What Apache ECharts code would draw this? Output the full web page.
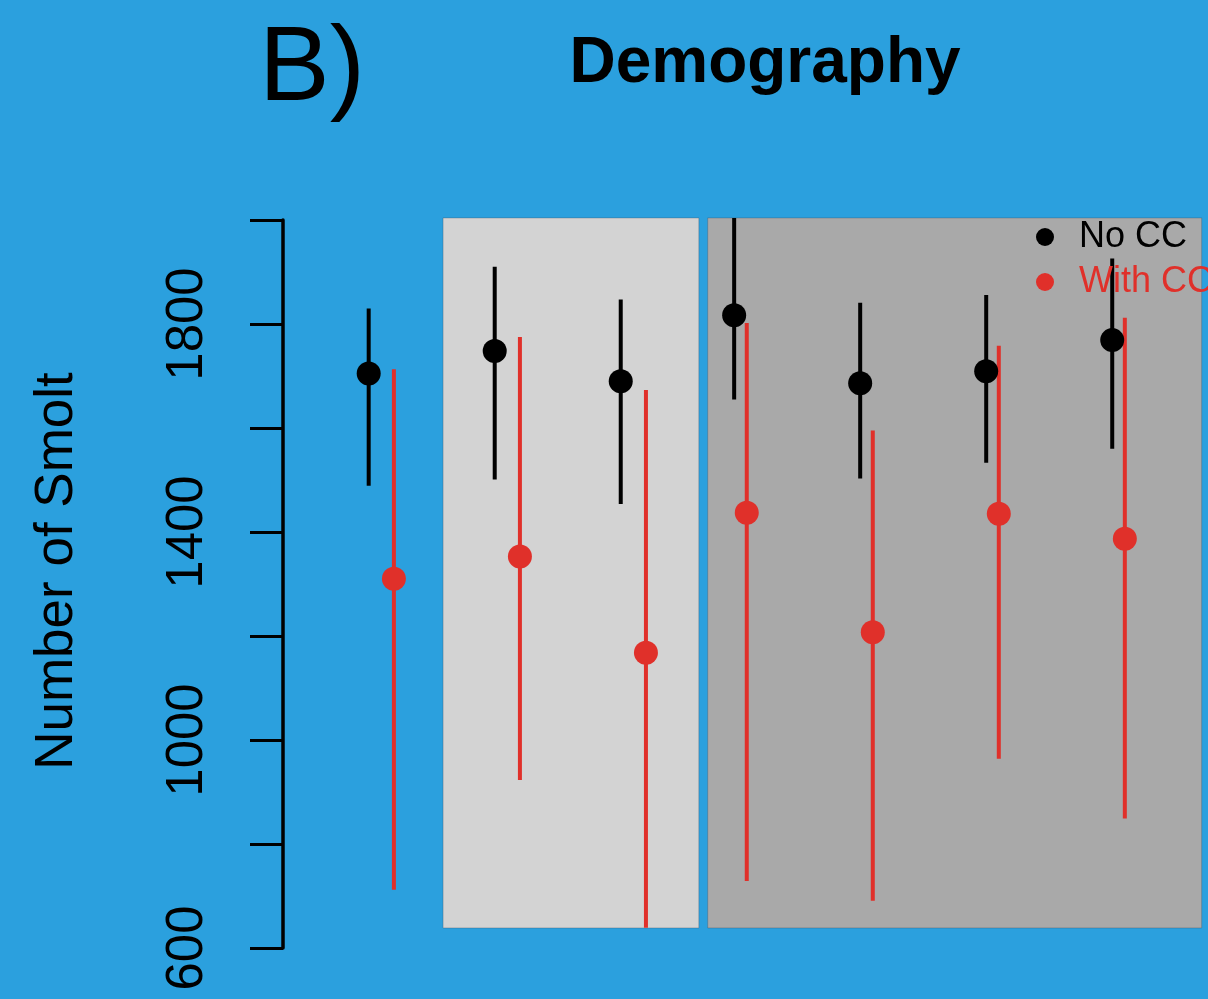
<!DOCTYPE html>
<html>
<head>
<meta charset="utf-8">
<script src="https://cdn.jsdelivr.net/npm/echarts@6/dist/echarts.min.js"></script>
<style>
html,body{margin:0;padding:0;background:#2ba0de;}
#chart{width:1208px;height:999px;}
</style>
</head>
<body>
<div id="chart"></div>
<script>
// ---- data ----
const seriesNames = ['No CC', 'With CC'];
const noCCx = [1, 2, 3, 3.9, 4.9, 5.9, 6.9];
const noCCmean = [1705, 1748, 1690, 1817, 1686, 1709, 1769];
const noCClow = [1489, 1501, 1454, 1655, 1503, 1533, 1560];
const noCChigh = [1830, 1910, 1847, 2004, 1841, 1856, 1926];
const withCCx = [1.2, 2.2, 3.2, 4, 5, 6, 7];
const withCCmean = [1310, 1353, 1168, 1437, 1207, 1435, 1387];
const withCClow = [712, 923, 639, 729, 691, 964, 849];
const withCChigh = [1713, 1775, 1673, 1802, 1595, 1758, 1812];
const tickLabels = [600, 1000, 1400, 1800];
const panelX0 = [1.59, 3.69];
const panelX1 = [3.62, 7.61];
const panelY0 = [638.5, 638.5];
const panelY1 = [2004, 2004];
const panelColors = ['#d3d3d3', '#a9a9a9'];

const BLACK = '#000000';
const RED = '#e0302a';

function barData(xs, lo, hi) {
  return xs.map((x, i) => [x, lo[i], hi[i]]);
}
function pointData(xs, ys) {
  return xs.map((x, i) => [x, ys[i]]);
}
function errRender(color) {
  return function (params, api) {
    const p1 = api.coord([api.value(0), api.value(1)]);
    const p2 = api.coord([api.value(0), api.value(2)]);
    return {
      type: 'line',
      shape: { x1: p1[0], y1: p1[1], x2: p2[0], y2: p2[1] },
      style: { stroke: color, lineWidth: 4 }
    };
  };
}

const chart = echarts.init(document.getElementById('chart'), null, { renderer: 'canvas' });
chart.setOption({
  backgroundColor: '#2ba0de',
  animation: false,
  title: [
    {
      text: 'B)',
      left: 254, top: 13,
      textStyle: { fontFamily: 'Liberation Sans', fontSize: 106, fontWeight: 'normal', color: '#000' }
    },
    {
      text: 'Demography',
      left: 760, top: 27, textAlign: 'center',
      textStyle: { fontFamily: 'Liberation Sans', fontSize: 64, fontWeight: 'bold', color: '#000' }
    }
  ],
  legend: {
    orient: 'vertical',
    left: 1036, top: 219,
    padding: 0,
    itemGap: 9,
    itemWidth: 18, itemHeight: 18,
    icon: 'circle',
    selectedMode: false,
    textStyle: { fontFamily: 'Liberation Sans', fontSize: 36, padding: [0, 0, 0, 20] },
    data: [
      { name: seriesNames[0], textStyle: { color: BLACK } },
      { name: seriesNames[1], textStyle: { color: RED } }
    ]
  },
  grid: { left: 283, right: 0, top: 220, bottom: 51, containLabel: false },
  xAxis: {
    type: 'value', min: 0.32, max: 7.66, show: false
  },
  yAxis: {
    type: 'value', min: 600, max: 2000, interval: 200,
    name: 'Number of Smolt',
    nameLocation: 'middle',
    nameGap: 199,
    nameTextStyle: { fontFamily: 'Liberation Sans', fontSize: 53, color: '#000', padding: [0, 0, 0, 26] },
    axisLine: { show: true, lineStyle: { color: '#000', width: 3.5 } },
    axisTick: { show: true, length: 33, lineStyle: { color: '#000', width: 3 } },
    axisLabel: {
      rotate: 90, margin: 70,
      fontFamily: 'Liberation Sans', fontSize: 51, color: '#000',
      formatter: v => tickLabels.includes(v) ? String(v) : ''
    },
    splitLine: { show: false }
  },
  series: [
    {
      type: 'custom', name: 'panels', silent: true, z: 0,
      data: panelX0.map((x, i) => [x, panelX1[i], panelY0[i], panelY1[i], i]),
      renderItem: function (params, api) {
        const a = api.coord([api.value(0), api.value(3)]);
        const b = api.coord([api.value(1), api.value(2)]);
        return {
          type: 'rect',
          shape: { x: a[0], y: a[1], width: b[0] - a[0], height: b[1] - a[1] },
          style: { fill: panelColors[api.value(4)], stroke: 'rgba(60,80,100,0.35)', lineWidth: 1 }
        };
      }
    },
    {
      type: 'custom', name: 'noCC-bars', silent: true, z: 2,
      data: barData(noCCx, noCClow, noCChigh),
      renderItem: errRender(BLACK)
    },
    {
      type: 'scatter', name: seriesNames[0], z: 3,
      symbol: 'circle', symbolSize: 24,
      itemStyle: { color: BLACK, opacity: 1 },
      data: pointData(noCCx, noCCmean)
    },
    {
      type: 'custom', name: 'withCC-bars', silent: true, z: 2,
      data: barData(withCCx, withCClow, withCChigh),
      renderItem: errRender(RED)
    },
    {
      type: 'scatter', name: seriesNames[1], z: 3,
      symbol: 'circle', symbolSize: 24,
      itemStyle: { color: RED, opacity: 1 },
      data: pointData(withCCx, withCCmean)
    }
  ]
});
</script>
</body>
</html>
